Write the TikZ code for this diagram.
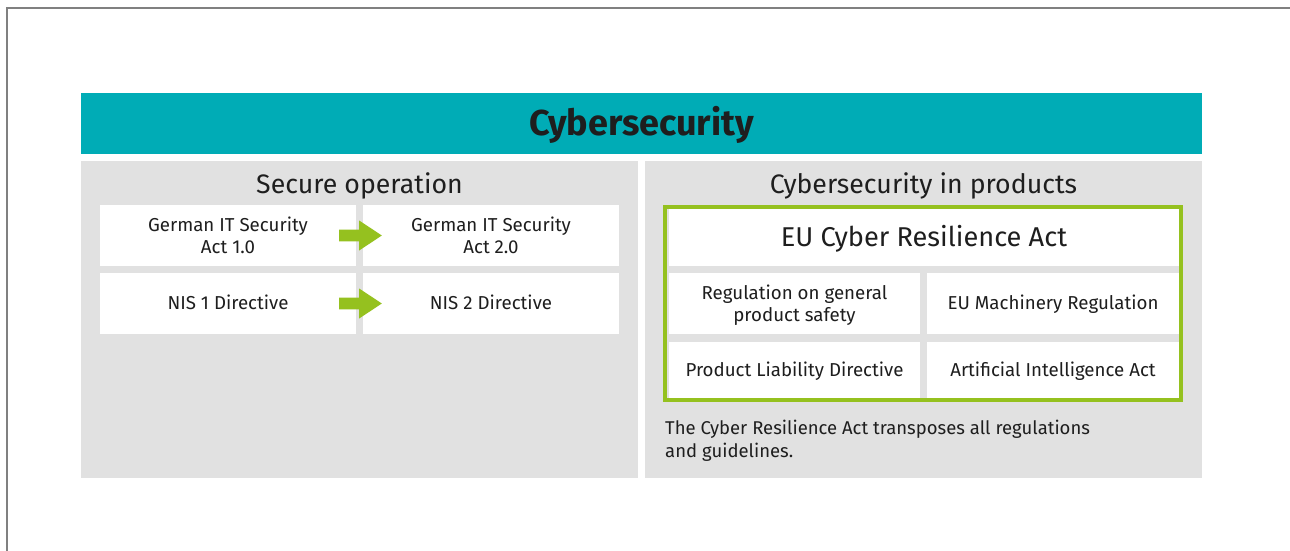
\documentclass[tikz,border=0pt]{standalone}
\usepackage{fontspec}
\setmainfont{Fira Sans}
\usetikzlibrary{calc}
\definecolor{tealbar}{RGB}{0,172,182}
\definecolor{panelgray}{RGB}{225,225,225}
\definecolor{limegreen}{RGB}{149,193,31}
\definecolor{framegray}{RGB}{128,128,128}
\definecolor{ink}{RGB}{30,30,30}
\newcommand{\bigarrow}[2]{%
  \fill[limegreen] ($(#1.east)+(-17,-5.8)$) -- ($(#1.east)+(3,-5.8)$) -- ($(#1.east)+(3,-15)$)
    -- ($(#2.west)+(19,0)$) -- ($(#1.east)+(3,15)$) -- ($(#1.east)+(3,5.8)$)
    -- ($(#1.east)+(-17,5.8)$) -- cycle;}
\begin{document}
\begin{tikzpicture}[x=1pt,y=-1pt,
  cell/.style={fill=white, inner sep=0pt},
  celltext/.style={inner sep=0pt, text=ink, align=center,
    font=\fontsize{18.7}{22}\selectfont, text height=12.9pt, text depth=0pt},
  celltwo/.style={celltext, text height=34.9pt},
  header/.style={inner sep=0pt, text=ink, font=\fontsize{26.7}{30}\selectfont},
  panel/.style={fill=panelgray, inner sep=0pt}]
\useasboundingbox (0,0) rectangle (1290,551);
% frame
\draw[framegray, line width=2pt] (7.3,551) -- (7.3,8.3) -- (1290,8.3);
% title bar
\node[fill=tealbar, inner sep=0pt, minimum width=1121, minimum height=61] (title) at (641.5,123.5) {};
\node[inner sep=0pt, font=\fontsize{36}{40}\selectfont\bfseries, text=ink] (titletext) at ([yshift=-1.5pt]title.center) {Cybersecurity};
% panels
\node[panel, minimum width=557, minimum height=317] (left) at (359.5,319.5) {};
\node[panel, minimum width=557, minimum height=317] (right) at (923.5,319.5) {};
\node[header] (lhead) at (359.5,186) {Secure operation};
\node[header] (rhead) at (923.5,186) {Cybersecurity in products};
% left boxes
\node[cell, minimum width=256, minimum height=61] (it1) at (228,235.5) {};
\node[cell, minimum width=256, minimum height=61] (it2) at (491,235.5) {};
\node[cell, minimum width=256, minimum height=61] (nis1) at (228,303.5) {};
\node[cell, minimum width=256, minimum height=61] (nis2) at (491,303.5) {};
\node[celltwo] (it1t) at ([yshift=-1pt]it1.center) {German IT Security\\Act 1.0};
\node[celltwo] (it2t) at ([yshift=-1pt]it2.center) {German IT Security\\Act 2.0};
\node[celltext] (nis1t) at (nis1.center) {NIS 1 Directive};
\node[celltext] (nis2t) at (nis2.center) {NIS 2 Directive};
\bigarrow{it1}{it2}
\bigarrow{nis1}{nis2}
% right: green frame
\node[draw=limegreen, line width=4.5pt, minimum width=516, minimum height=193, inner sep=0pt] (cra) at (923,303.5) {};
\node[cell, minimum width=510, minimum height=57] (crat) at (924,237.5) {};
\node[cell, minimum width=251, minimum height=61] (gps) at (794.5,303.5) {};
\node[cell, minimum width=252, minimum height=61] (mach) at (1053,303.5) {};
\node[cell, minimum width=251, minimum height=56] (pld) at (794.5,370) {};
\node[cell, minimum width=252, minimum height=56] (ai) at (1053,370) {};
\node[celltext, font=\fontsize{27.2}{30}\selectfont, text height=18.7pt] (cratt) at (crat.center) {EU Cyber Resilience Act};
\node[celltwo] (gpst) at ([yshift=-0.5pt]gps.center) {Regulation on general\\product safety};
\node[celltext] (macht) at (mach.center) {EU Machinery Regulation};
\node[celltext] (pldt) at (pld.center) {Product Liability Directive};
\node[celltext] (ait) at (ai.center) {Artificial Intelligence Act};
\node[anchor=north west, inner sep=0pt, text=ink, align=left,
  font=\fontsize{18.5}{23}\selectfont] (note) at (665,419.5) {The Cyber Resilience Act transposes all regulations\\and guidelines.};
\end{tikzpicture}
\end{document}
